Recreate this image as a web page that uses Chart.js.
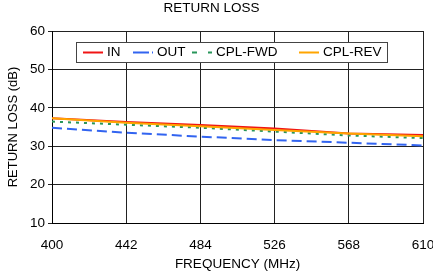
<!DOCTYPE html>
<html>
<head>
<meta charset="utf-8">
<script src="https://cdn.jsdelivr.net/npm/chart.js@4.4.1/dist/chart.umd.min.js"></script>
<style>
html, body { margin: 0; padding: 0; background: #fff; }
#wrap { width: 433px; height: 271px; }
</style>
</head>
<body>
<div id="wrap"><canvas id="grafico"></canvas></div>
<script>
var frequencias = [400, 442, 484, 526, 568, 610];
var perdaIn     = [37.3, 36.3, 35.5, 34.6, 33.3, 32.9];
var perdaOut    = [34.8, 33.5, 32.5, 31.6, 30.9, 30.2];
var perdaCplFwd = [36.4, 35.6, 34.8, 33.8, 32.8, 32.1];
var perdaCplRev = [37.3, 36.1, 35.2, 34.2, 33.3, 32.6];
var limitesX = [400, 610];
var limitesY = [10, 60];

var fonte = '"Liberation Sans", Arial, sans-serif';

function pontos(valores) {
    return frequencias.map(function (f, i) { return { x: f, y: valores[i] }; });
}

// legenda desenhada dentro da area do grafico, como no original
var legendaInterna = {
    id: 'legendaInterna',
    afterDraw: function (chart) {
        var ctx = chart.ctx;
        var posX = [83, 133, 192, 299];
        var y = 52.5;
        ctx.save();
        ctx.fillStyle = '#fff';
        ctx.fillRect(76.5, 42.5, 311, 20);
        ctx.strokeStyle = '#444';
        ctx.lineWidth = 1;
        ctx.strokeRect(76.5, 42.5, 311, 20);
        chart.data.datasets.forEach(function (ds, i) {
            ctx.beginPath();
            ctx.strokeStyle = ds.borderColor;
            ctx.lineWidth = 2;
            ctx.setLineDash(ds.legendDash || []);
            ctx.moveTo(posX[i], y);
            ctx.lineTo(posX[i] + 20, y);
            ctx.stroke();
            ctx.setLineDash([]);
            ctx.fillStyle = '#000';
            ctx.font = '13.5px ' + fonte;
            ctx.textBaseline = 'middle';
            ctx.fillText(ds.label, posX[i] + 24, y);
        });
        ctx.restore();
    }
};

var ctx = document.getElementById('grafico').getContext('2d');
window.grafico = new Chart(ctx, {
    type: 'line',
    data: {
        datasets: [{
            label: 'IN',
            data: pontos(perdaIn),
            borderColor: 'rgb(240,20,20)',
            borderWidth: 2,
            order: 1
        }, {
            label: 'OUT',
            data: pontos(perdaOut),
            borderColor: 'rgb(50,100,240)',
            borderWidth: 2,
            borderDash: [10, 5],
            legendDash: [16, 3, 2, 30],
            order: 3
        }, {
            label: 'CPL-FWD',
            data: pontos(perdaCplFwd),
            borderColor: 'rgb(40,150,90)',
            borderWidth: 2,
            borderDash: [3, 5],
            legendDash: [5, 11],
            order: 2
        }, {
            label: 'CPL-REV',
            data: pontos(perdaCplRev),
            borderColor: 'rgb(255,165,0)',
            borderWidth: 2,
            order: 0
        }]
    },
    options: {
        responsive: true,
        maintainAspectRatio: false,
        animation: false,
        layout: { padding: { top: 0, right: 10, bottom: 0, left: 0 } },
        elements: {
            point: { radius: 0 },
            line: { tension: 0, fill: false }
        },
        plugins: {
            legend: { display: false },
            tooltip: { enabled: false },
            title: {
                display: true,
                text: 'RETURN LOSS',
                color: '#000',
                font: { family: fonte, size: 13.5, weight: 'normal' },
                padding: { top: 0.5, bottom: 14.3 }
            }
        },
        scales: {
            x: {
                type: 'linear',
                min: limitesX[0],
                max: limitesX[1],
                afterFit: function (scale) { scale.height = 48; scale.paddingRight = 0; },
                ticks: {
                    stepSize: 42,
                    color: '#000',
                    padding: 14,
                    maxRotation: 0,
                    font: { family: fonte, size: 13.5 }
                },
                grid: { color: '#222', lineWidth: 1, tickLength: 0 },
                border: { color: '#000', width: 1 },
                title: {
                    display: true,
                    text: 'FREQUENCY (MHz)',
                    color: '#000',
                    font: { family: fonte, size: 13.5 },
                    padding: { top: 0, bottom: -1 }
                }
            },
            y: {
                min: limitesY[0],
                max: limitesY[1],
                afterFit: function (scale) { scale.width = 52; },
                ticks: {
                    stepSize: 10,
                    color: '#000',
                    padding: 3,
                    font: { family: fonte, size: 13.5 }
                },
                grid: { color: '#222', lineWidth: 1, tickLength: 4 },
                border: { color: '#000', width: 1 },
                title: {
                    display: true,
                    text: 'RETURN LOSS (dB)',
                    color: '#000',
                    font: { family: fonte, size: 13 },
                    padding: { top: 5.5, bottom: 0 }
                }
            }
        }
    },
    plugins: [legendaInterna]
});
</script>
</body>
</html>
